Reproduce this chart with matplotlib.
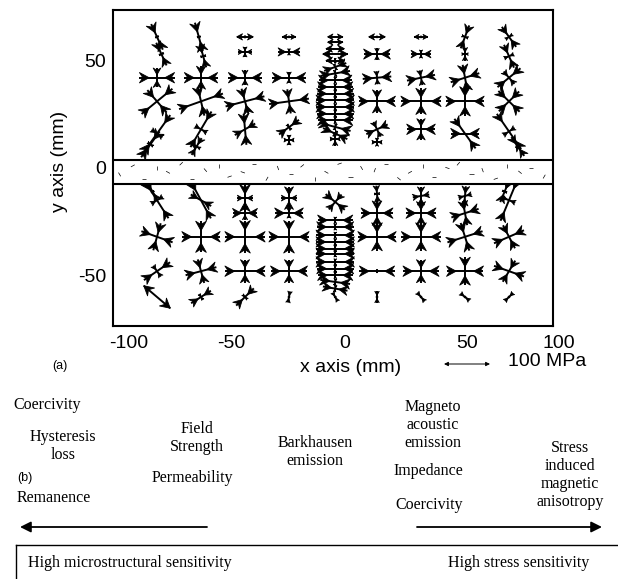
import numpy as np
import matplotlib.pyplot as plt
from matplotlib.collections import LineCollection, PolyCollection
from matplotlib.patches import Rectangle

SANS = 'Liberation Sans'
SERIF = 'Liberation Serif'

# ---- (a) principal stress field, x/y in mm, stresses in MPa, angles in deg
# negative = compressive (heads point inward), positive = tensile
gx = [-80, -78, -80, -80, -80, -83,
      -61, -59, -60, -60, -60, -62,
      -40, -40, -40, -40, -40,
      -20, -20, -20, -20, -20, -20,
      20, 20, 20, 20, 20, 20,
      40, 40, 40, 40, 40,
      60, 60, 60, 60, 60,
      80, 80, 80, 80, 80, 84,
      -80, -82, -80, -80, -80,
      -60, -60, -60, -60,
      -40, -40, -40, -40, -40,
      -20, -20, -20, -20, -20,
      20, 20, 20, 20, 20,
      40, 40, 40, 40, 40,
      60, 60, 60, 60, 60,
      80, 78, 80, 80, 80]
gy = [61, 53, 42, 31, 16, 11,
      61, 52, 42, 31, 18, 10,
      61, 54, 42, 31, 18,
      61, 54, 42, 31, 19, 13,
      61, 53, 42, 31, 18, 12,
      61, 53, 42, 31, 18,
      61, 53, 42, 31, 16,
      61, 52, 42, 31, 17, 10,
      -15, -11, -32, -48, -60,
      -15, -32, -48, -60,
      -14, -21, -32, -48, -60,
      -14, -21, -32, -48, -60,
      -12, -21, -32, -48, -60,
      -13, -21, -32, -48, -60,
      -13, -21, -32, -48, -60,
      -15, -11, -32, -48, -60]
s1 = [-62, -55, -76, -87, -100, -70,
      -65, -51, -72, -101, -91, -43,
      36, -29, -72, -87, -69,
      29, -47, -72, -87, -54, -22,
      36, -58, -62, -80, -51, -22,
      29, -43, -62, -87, -62,
      -54, -29, -65, -83, -80,
      -54, -55, -65, -65, -94, -50,
      -94, -43, -72, -69, 76,
      -91, -83, -69, -51,
      -60, -54, -87, -87, -54,
      -50, -62, -87, -80, -25,
      -36, -69, -83, -76, -25,
      -40, -65, -85, -78, -25,
      -43, -62, -80, -80, -25,
      -98, -50, -71, -69, -25]
a1 = [-66, -66, 0, 40, 55, 55,
      -75, -75, 0, 20, 60, 60,
      0, 0, 0, 15, 95,
      0, 0, 0, 8, 37, 0,
      0, 0, 5, 0, 25, 0,
      0, 0, 12, 0, 0,
      70, 90, 18, 0, -55,
      125, -67, 40, -45, -56, -56,
      -58, -60, -20, 35, -41,
      -62, 0, 15, 33,
      90, 0, 0, 0, 45,
      90, 0, 0, 0, 80,
      95, 0, 0, 0, 90,
      90, 0, 0, 0, -50,
      85, 18, 18, 0, -40,
      68, 68, 24, -20, 45]
s2 = [-7, -10, -43, -65, -29, -14,
      -7, -11, -51, -65, -29, -18,
      6, -22, -33, -58, -51,
      5, -14, -25, -54, -14, -22,
      5, -25, -29, -51, -36, -18,
      5, -18, -33, -58, -47,
      -14, -14, -58, -65, -62,
      -18, -22, -36, -62, -29, -10,
      -29, -7, -62, -29, 0,
      -51, -69, -54, -14,
      -33, -29, -72, -51, -14,
      -33, -22, -72, -51, -4,
      -11, -54, -62, -7, -4,
      -36, -51, -62, -51, -4,
      -29, -54, -64, -62, -4,
      -29, -10, -57, -54, -4]
a2 = [24, 24, 90, -50, -35, -35,
      15, 15, 90, -77, -30, -30,
      90, 90, 90, -75, 30,
      90, 90, 90, -82, -53, 90,
      90, 90, 95, 90, -65, 90,
      90, 90, -80, 90, 90,
      -20, 0, 100, 90, 0,
      35, 23, -50, 45, 34, 34,
      32, 30, 75, -55, 49,
      -30, 90, -75, -57,
      0, 90, 90, 90, -45,
      0, 90, 90, 90, -10,
      5, 90, 90, 90, 0,
      10, 90, 90, 90, 40,
      15, 100, -73, 90, 50,
      -22, -22, -63, 60, -45]

# centre column (x ~ 1 mm), closely spaced points forming the two "ellipses"
cx = 1
cy = [61, 58.5, 55.5, 53, 50, 47, 44, 40.8, 37.7, 34.6, 31.5, 28.4, 25.3,
      22.2, 19.1, 16, 13.5,
      -15.8, -24.3, -27.4, -31.3, -34.4, -37.5, -39.9, -43.7, -46.8, -49.9,
      -53.0, -56.1, -60]
cs1 = [33, 33, 40, 54, 40, -51, -65, -72, -76, -80, -83, -83, -80,
       -76, -69, -58, -29,
       -54, -76, -80, -83, -83, -83, -83, -83, -80, -76, -65, -54, -22]
ca1 = [0, 0, 0, 0, 0, 20, 10, 0, 0, 0, 0, 0, 0,
       0, -15, -25, 90,
       -40, 0, 0, 0, 0, 0, 0, 0, 0, 0, -8, -10, -60]
cs2 = [0, 0, 0, 0, -10, -14, -14, -14, -14, -14, -14, -14, -14,
       -14, -14, -14, -22,
       -43, -14, -14, -14, -14, -14, -14, -14, -14, -14, -14, -14, -4]

# weld band texture dashes (x mm, y mm, angle deg)
dash_x = [-97, -91, -86, -80, -75, -69, -64, -58, -52, -47, -41, -36, -30,
          -25, -19, -14, -8, -3, 3, 8, 13, 19, 24, 30, 35, 41, 46, 52, 57,
          63, 68, 74, 79, 85, 90, 96]
dash_y = [-3, 1, -5, 0, -2, 2, -5, -1, 1, -4, -2, 2, -5, 0, -3, 1, -5,
          -2, 2, -4, 0, -1, 2, -5, -2, 1, -4, 0, 2, -3, -1, -5, 1, -2, 0, -4]
dash_a = [120, 30, 0, 90, 150, 45, 0, 130, 90, 20, 160, 0, 60, 110, 0,
          40, 90, 150, 20, 0, 120, 70, 0, 140, 30, 90, 0, 160, 50, 0, 110,
          20, 90, 140, 0, 60]

x_tick_labels = ['-100', '-50', '0', '50', '100']
x_tick_pos = [-92.7, -46.4, 5.5, 60.9, 102.7]   # where the labels sit
y_ticks = [-50, 0, 50]
SCALE_MPA = 100
MM_PER_MPA = 0.21

fig = plt.figure(figsize=(6.18, 5.79), dpi=100)
ax = fig.add_axes([113 / 618, 1 - 326 / 579, 440 / 618, 316 / 579])
ax.set_xlim(-100, 100)
ax.set_ylim(-73.5, 73.5)

segs, heads = [], []


def add_arm(x, y, s, ang):
    L = abs(s) * MM_PER_MPA / 2
    if L <= 0:
        return
    ux, uy = np.cos(np.radians(ang)), np.sin(np.radians(ang))
    nx, ny = -uy, ux
    segs.append([(x - L * ux, y - L * uy), (x + L * ux, y + L * uy)])
    h = min(4.4, 0.7 * L)
    w = 0.55 * h
    for sg in (1, -1):
        ex, ey = x + sg * L * ux, y + sg * L * uy
        dx, dy = sg * ux, sg * uy
        if s < 0:
            tip = (ex - h * dx, ey - h * dy)
            bx, by = ex, ey
            notch = (ex - 0.35 * h * dx, ey - 0.35 * h * dy)
        else:
            tip = (ex, ey)
            bx, by = ex - h * dx, ey - h * dy
            notch = (bx + 0.35 * h * dx, by + 0.35 * h * dy)
        heads.append([tip, (bx + w * nx, by + w * ny), notch,
                      (bx - w * nx, by - w * ny)])


for i in range(len(gx)):
    add_arm(gx[i], gy[i], s1[i], a1[i])
    add_arm(gx[i], gy[i], s2[i], a2[i])
for i in range(len(cy)):
    add_arm(cx, cy[i], cs1[i], ca1[i])
    add_arm(cx, cy[i], cs2[i], ca1[i] + 90)

ax.add_collection(LineCollection(segs, colors='black', linewidths=1.4, zorder=2))
ax.add_collection(PolyCollection(heads, facecolors='black', edgecolors='black',
                                 linewidths=0.6, zorder=3))

# weld band
ax.add_patch(Rectangle((-100, -7.4), 200, 11.1, facecolor='white',
                       edgecolor='black', linewidth=1.5, zorder=4))
dsegs = []
for x, y, a in zip(dash_x, dash_y, dash_a):
    ux, uy = np.cos(np.radians(a)), np.sin(np.radians(a))
    dsegs.append([(x - 1 * ux, y - 1 * uy), (x + 1 * ux, y + 1 * uy)])
ax.add_collection(LineCollection(dsegs, colors='black', linewidths=0.5, zorder=5))

for sp in ax.spines.values():
    sp.set_linewidth(1.5)
ax.set_yticks(y_ticks)
ax.set_yticklabels([str(v) for v in y_ticks], fontsize=14, family=SANS)
ax.tick_params(axis='y', length=0, pad=5)
ax.set_xticks([])
for p, lab in zip(x_tick_pos, x_tick_labels):
    ax.text(p, -0.03, lab, transform=ax.get_xaxis_transform(), ha='center',
            va='top', fontsize=14, family=SANS)

# overlay in pixel coordinates for labels and part (b)
ov = fig.add_axes([0, 0, 1, 1], zorder=-1)
ov.set_xlim(0, 618)
ov.set_ylim(579, 0)
ov.axis('off')

ov.text(60, 161, 'y axis (mm)', rotation=90, ha='center', va='center',
        fontsize=14, family=SANS)
ov.text(351, 367, 'x axis (mm)', ha='center', va='center', fontsize=14, family=SANS)
ov.text(60, 366, '(a)', ha='center', va='center', fontsize=9, family=SANS)
ov.annotate('', xy=(444, 364), xytext=(490, 364),
            arrowprops=dict(arrowstyle='<|-|>', lw=0.7, color='black',
                            mutation_scale=6, shrinkA=0, shrinkB=0))
ov.text(547, 362, f'{SCALE_MPA} MPa', ha='center', va='center', fontsize=14, family=SANS)

# ---- (b) sensitivity of magnetic parameters
fs = 11.5
ov.text(13, 405, 'Coercivity', ha='left', va='center', fontsize=fs, family=SERIF)
ov.text(63, 446, 'Hysteresis\nloss', ha='center', va='center', fontsize=fs,
        family=SERIF, linespacing=1.15)
ov.text(197, 438, 'Field\nStrength', ha='center', va='center', fontsize=fs,
        family=SERIF, linespacing=1.15)
ov.text(25, 478, '(b)', ha='center', va='center', fontsize=9, family=SANS)
ov.text(192, 478, 'Permeability', ha='center', va='center', fontsize=fs, family=SERIF)
ov.text(17, 498, 'Remanence', ha='left', va='center', fontsize=fs, family=SERIF)
ov.text(315, 452, 'Barkhausen\nemission', ha='center', va='center', fontsize=fs,
        family=SERIF, linespacing=1.15)
ov.text(433, 425, 'Magneto\nacoustic\nemission', ha='center', va='center',
        fontsize=fs, family=SERIF, linespacing=1.15)
ov.text(428, 471, 'Impedance', ha='center', va='center', fontsize=fs, family=SERIF)
ov.text(429, 505, 'Coercivity', ha='center', va='center', fontsize=fs, family=SERIF)
ov.text(570, 475, 'Stress\ninduced\nmagnetic\nanisotropy', ha='center',
        va='center', fontsize=fs, family=SERIF, linespacing=1.15)

ov.annotate('', xy=(20, 527), xytext=(207, 527),
            arrowprops=dict(arrowstyle='-|>', lw=1.3, color='black',
                            mutation_scale=16, shrinkA=0, shrinkB=0))
ov.annotate('', xy=(602, 527), xytext=(417, 527),
            arrowprops=dict(arrowstyle='-|>', lw=1.3, color='black',
                            mutation_scale=16, shrinkA=0, shrinkB=0))
ov.plot([16, 618], [545, 545], color='black', lw=1.0)
ov.plot([16, 16], [545, 579], color='black', lw=1.0)
ov.text(28, 563, 'High microstructural sensitivity', ha='left', va='center',
        fontsize=fs, family=SERIF)
ov.text(519, 563, 'High stress sensitivity', ha='center', va='center',
        fontsize=fs, family=SERIF)

fig.savefig('out.png', dpi=100)
